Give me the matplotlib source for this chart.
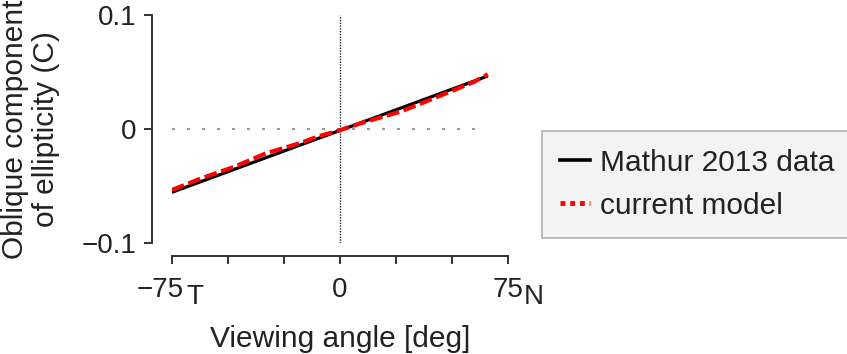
import matplotlib
matplotlib.use("Agg")
import matplotlib.pyplot as plt
from matplotlib.lines import Line2D

plt.rcParams['font.family'] = ['Liberation Sans', 'DejaVu Sans']

# Mathur 2013 data (straight line)
mathur_x = [-75, 66]
mathur_y = [-0.0555, 0.0465]

# current model
model_x = [-75, -62, -47, -33, -18, -10, 0, 10, 27, 40, 60, 66]
model_y = [-0.0535, -0.0433, -0.0330, -0.0213, -0.0125, -0.0067,
           -0.001, 0.0055, 0.0152, 0.0254, 0.0415, 0.048]

xticks = [-75, -50, -25, 0, 25, 50, 75]
yticks = [-0.1, 0, 0.1]
ytick_labels = ['\u22120.1', '0', '0.1']

W, H = 847, 354
fig = plt.figure(figsize=(W / 100, H / 100), dpi=100)
ax = fig.add_axes([172 / W, (H - 243) / H, 336 / W, 228 / H])

txt = '#222222'
ax.plot([-75, 64], [0, 0], color='#999999', lw=1.5, ls=(0, (1.4, 5.8)))
ax.plot([0, 0], [-0.1, 0.1], color='#222222', lw=1.0, ls=(0, (1, 1)))
ax.plot(mathur_x, mathur_y, color='black', lw=2.3, solid_capstyle='butt')
ax.plot(model_x, model_y, color='#ff0000', lw=3.0, ls=(0, (3.1, 1.1)))

ax.set_xlim(-75, 75)
ax.set_ylim(-0.1, 0.1)

for s in ['top', 'right']:
    ax.spines[s].set_visible(False)
ax.spines['left'].set_position(('outward', 14.4))
ax.spines['bottom'].set_position(('outward', 9.4))
for s in ['left', 'bottom']:
    ax.spines[s].set_linewidth(1.4)
    ax.spines[s].set_color('#333333')

ax.set_xticks(xticks)
ax.set_xticklabels([''] * len(xticks))
ax.set_yticks(yticks)
ax.set_yticklabels(ytick_labels)
ax.tick_params(axis='both', direction='out', length=6, width=1.4,
               color='#333333', labelsize=20, labelcolor=txt)
ax.tick_params(axis='y', pad=5)

# x tick labels with T / N subscripts
trans = ax.get_xaxis_transform()
ax.annotate('\u221275', xy=(-75, 0), xycoords=trans, xytext=(12, -34),
            textcoords='offset pixels', ha='right', va='top',
            fontsize=20, color=txt)
ax.annotate('T', xy=(-75, 0), xycoords=trans, xytext=(14, -41),
            textcoords='offset pixels', ha='left', va='top',
            fontsize=20, color=txt)
ax.annotate('0', xy=(0, 0), xycoords=trans, xytext=(0, -34),
            textcoords='offset pixels', ha='center', va='top',
            fontsize=20, color=txt)
ax.annotate('75', xy=(75, 0), xycoords=trans, xytext=(0, -34),
            textcoords='offset pixels', ha='center', va='top',
            fontsize=20, color=txt)
ax.annotate('N', xy=(75, 0), xycoords=trans, xytext=(16, -41),
            textcoords='offset pixels', ha='left', va='top',
            fontsize=20, color=txt)

ax.set_xlabel('Viewing angle [deg]', fontsize=21.5, color=txt, labelpad=40)
ax.set_ylabel('Oblique component\nof ellipticity (C)', fontsize=21.5,
              color=txt, labelpad=16, linespacing=1.12)

handles = [Line2D([], [], color='black', lw=2.6),
           Line2D([], [], color='#ff0000', lw=3.5, ls=(0, (1, 1)))]
leg = fig.legend(handles, ['Mathur 2013 data', 'current model'],
                 loc='upper left', bbox_to_anchor=(542 / W, 1 - 131 / H),
                 fontsize=21.5, frameon=True, fancybox=False,
                 handlelength=1.0, handletextpad=0.35, labelspacing=0.5,
                 borderpad=0.6, borderaxespad=0)
leg.get_frame().set_facecolor('#f0f0f0')
leg.get_frame().set_edgecolor('#a0a0a0')
leg.get_frame().set_linewidth(1.2)
for t in leg.get_texts():
    t.set_color(txt)

fig.savefig('out.png', dpi=100)
